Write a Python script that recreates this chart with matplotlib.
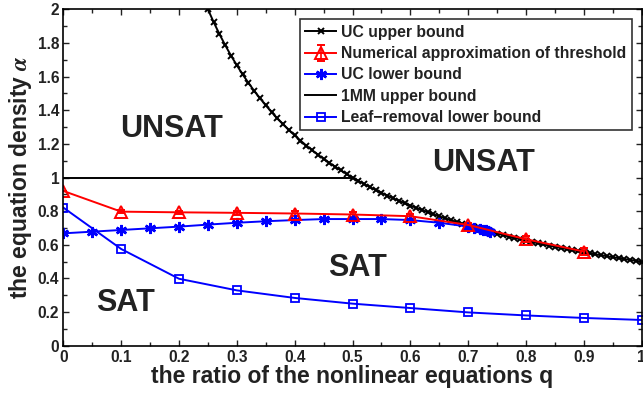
import numpy as np
import matplotlib
matplotlib.use("Agg")
import matplotlib.pyplot as plt
from matplotlib.ticker import MultipleLocator

plt.rcParams['font.family'] = ['Liberation Sans', 'DejaVu Sans']
plt.rcParams['font.weight'] = 'bold'
plt.rcParams['mathtext.fontset'] = 'stix'

# UC upper bound (dense curve)
q_ucu = [0.25, 0.26, 0.27, 0.28, 0.29, 0.30, 0.31, 0.32, 0.33, 0.34, 0.35, 0.36,
         0.37, 0.38, 0.39, 0.40, 0.41, 0.42, 0.43, 0.44, 0.45, 0.46, 0.47, 0.48,
         0.49, 0.50, 0.51, 0.52, 0.53, 0.54, 0.55, 0.56, 0.57, 0.58, 0.59, 0.60,
         0.61, 0.62, 0.63, 0.64, 0.65, 0.66, 0.67, 0.68, 0.69, 0.70, 0.71, 0.72,
         0.73, 0.74, 0.75, 0.76, 0.77, 0.78, 0.79, 0.80, 0.81, 0.82, 0.83, 0.84,
         0.85, 0.86, 0.87, 0.88, 0.89, 0.90, 0.91, 0.92, 0.93, 0.94, 0.95, 0.96,
         0.97, 0.98, 0.99, 1.00]
a_ucu = [2.000, 1.923, 1.852, 1.786, 1.724, 1.667, 1.613, 1.563, 1.515, 1.471, 1.429, 1.389,
         1.351, 1.316, 1.282, 1.250, 1.220, 1.190, 1.163, 1.136, 1.111, 1.087, 1.064, 1.042,
         1.020, 1.000, 0.980, 0.962, 0.943, 0.926, 0.909, 0.893, 0.877, 0.862, 0.847, 0.833,
         0.820, 0.806, 0.794, 0.781, 0.769, 0.758, 0.746, 0.735, 0.725, 0.714, 0.704, 0.694,
         0.685, 0.676, 0.667, 0.658, 0.649, 0.641, 0.633, 0.625, 0.617, 0.610, 0.602, 0.595,
         0.588, 0.581, 0.575, 0.568, 0.562, 0.556, 0.549, 0.543, 0.538, 0.532, 0.526, 0.521,
         0.515, 0.510, 0.505, 0.500]

# numerical approximation of threshold
q_num = [0.0, 0.1, 0.2, 0.3, 0.4, 0.5, 0.6, 0.7, 0.8, 0.9]
a_num = [0.92, 0.797, 0.793, 0.790, 0.786, 0.780, 0.770, 0.718, 0.633, 0.560]
e_num = [0.0, 0.008, 0.008, 0.010, 0.012, 0.015, 0.015, 0.012, 0.018, 0.018]

# UC lower bound
q_ucl = [0.0, 0.05, 0.1, 0.15, 0.2, 0.25, 0.3, 0.35, 0.4, 0.45, 0.5, 0.55, 0.6,
         0.65, 0.7, 0.71, 0.72, 0.725, 0.73, 0.735, 0.737]
a_ucl = [0.668, 0.678, 0.688, 0.698, 0.708, 0.720, 0.731, 0.740, 0.747, 0.753, 0.753,
         0.753, 0.747, 0.731, 0.708, 0.700, 0.693, 0.690, 0.685, 0.680, 0.678]

# 1MM upper bound
q_1mm = [0.0, 0.5]
a_1mm = [1.0, 1.0]

# leaf-removal lower bound
q_leaf = [0.0, 0.1, 0.2, 0.3, 0.4, 0.5, 0.6, 0.7, 0.8, 0.9, 1.0]
a_leaf = [0.821, 0.575, 0.398, 0.329, 0.284, 0.250, 0.224, 0.198, 0.180, 0.165, 0.153]

xtick_labels = ['0', '0.1', '0.2', '0.3', '0.4', '0.5', '0.6', '0.7', '0.8', '0.9', '1']
ytick_vals = [0, 0.2, 0.4, 0.6, 0.8, 1.0, 1.2, 1.4, 1.6, 1.8, 2.0]
ytick_labels = ['0', '0.2', '0.4', '0.6', '0.8', '1', '1.2', '1.4', '1.6', '1.8', '2']

fig = plt.figure(figsize=(6.43, 3.96), dpi=100)
ax = fig.add_axes([0.0985, 0.127, 0.8995, 0.8495])

lw = 1.4
h1, = ax.plot(q_ucu, a_ucu, 'k-', marker='x', ms=5, mew=1.4, lw=lw,
              label='UC upper bound')
h2 = ax.errorbar(q_num, a_num, yerr=e_num, color='red', marker='^', ms=8,
                 mfc='none', mew=1.4, lw=lw, capsize=3, elinewidth=1.2,
                 label='Numerical approximation of threshold')
h3, = ax.plot(q_ucl, a_ucl, color='blue', marker=(6, 2, 0), ms=8, mew=1.8,
              lw=lw, label='UC lower bound')
h4, = ax.plot(q_1mm, a_1mm, 'k-', lw=lw, label='1MM upper bound')
h5, = ax.plot(q_leaf, a_leaf, color='blue', marker='s', ms=6, mfc='none',
              mew=1.3, lw=lw, label='Leaf\u2212removal lower bound')

txt = dict(fontsize=22, fontweight='bold', color='#222222', ha='center', va='center')
ax.text(0.187, 1.29, 'UNSAT', **txt)
ax.text(0.726, 1.086, 'UNSAT', **txt)
ax.text(0.108, 0.252, 'SAT', **txt)
ax.text(0.509, 0.46, 'SAT', **txt)

ax.set_xlim(0, 1)
ax.set_ylim(0, 2)
ax.set_xticks(q_leaf)
ax.set_xticklabels(xtick_labels)
ax.set_yticks(ytick_vals)
ax.set_yticklabels(ytick_labels)
ax.xaxis.set_minor_locator(MultipleLocator(0.05))
ax.yaxis.set_minor_locator(MultipleLocator(0.1))
ax.tick_params(which='both', direction='in', top=True, right=True, width=1.0,
               labelsize=11.2, colors='#222222', pad=3)
ax.tick_params(which='major', length=4)
ax.tick_params(which='minor', length=3)
for s in ax.spines.values():
    s.set_linewidth(1.2)

ax.set_xlabel('the ratio of the nonlinear equations q', fontsize=16.5,
              fontweight='bold', color='#222222', labelpad=0)
ax.set_ylabel('the equation density $\\alpha$', fontsize=16.5,
              fontweight='bold', color='#222222', labelpad=3)

leg = ax.legend([h1, h2, h3, h4, h5],
                [h1.get_label(), 'Numerical approximation of threshold',
                 h3.get_label(), h4.get_label(), h5.get_label()],
                loc='upper right', bbox_to_anchor=(0.983, 0.970), fontsize=11.3,
                frameon=True, fancybox=False, edgecolor='black',
                handlelength=2.0, handletextpad=0.3, labelspacing=0.4,
                borderpad=0.35, borderaxespad=0)
leg.get_frame().set_linewidth(1.2)
for t in leg.get_texts():
    t.set_color('#222222')

fig.savefig('out.png', dpi=100)
